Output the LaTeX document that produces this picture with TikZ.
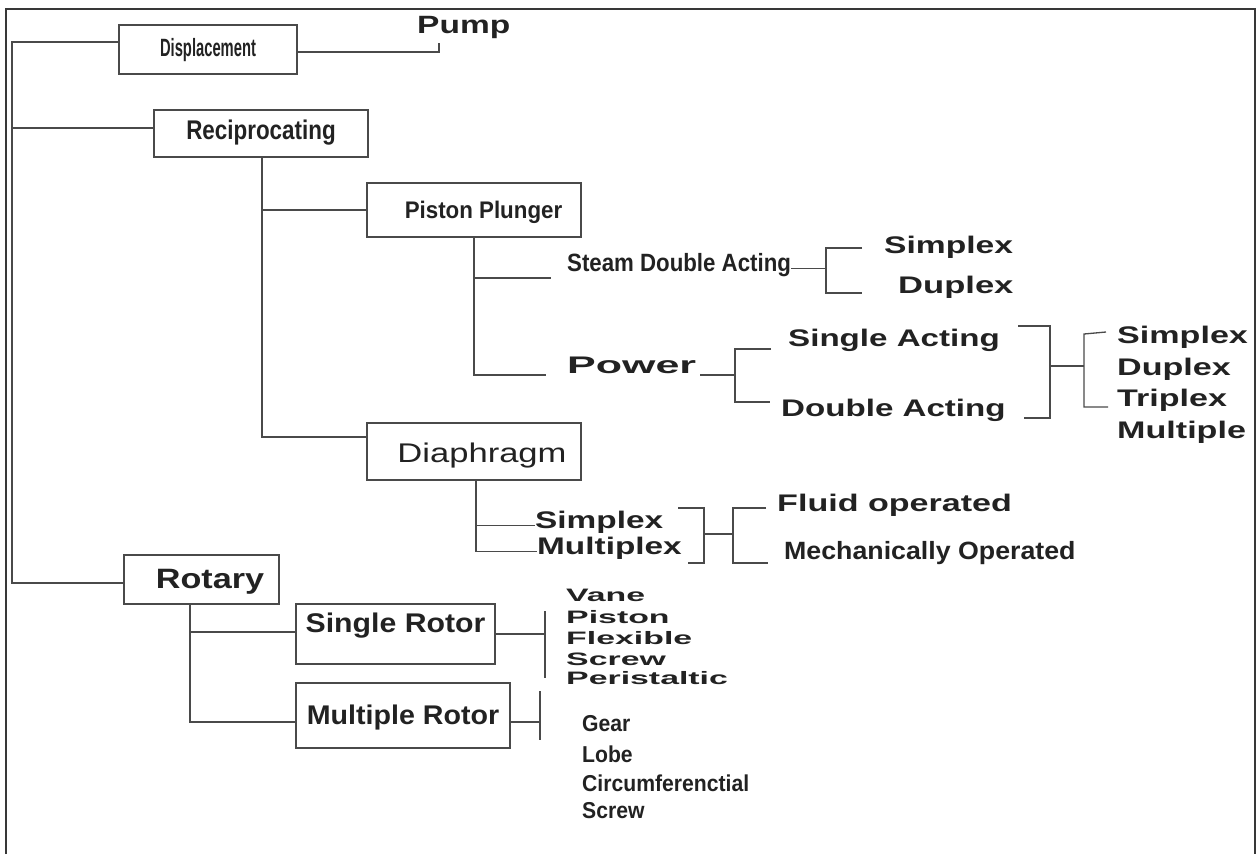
\documentclass[tikz,border=0pt]{standalone}
\usepackage{fontspec}
\setmainfont{Liberation Sans}
\usepackage{graphicx}
\usepackage{xcolor}
\usetikzlibrary{positioning,calc}
\definecolor{ink}{HTML}{222222}
\definecolor{wire}{HTML}{4A4A4A}
\newcommand{\wide}[2]{\scalebox{#1}[1]{#2}}

\begin{document}
\begin{tikzpicture}[x=1pt, y=-1pt,
					fs/.style={font=\bfseries\fontsize{#1}{#1}\selectfont},
					box/.style={draw=wire, line width=1.2pt, inner sep=0pt, text=ink},
					lbl/.style={inner sep=0pt, anchor=base west, text=ink},
					conn/.style={draw=wire, line width=1.3pt},
					frame/.style={draw=ink!90, line width=2pt}]
	\useasboundingbox (0,0) rectangle (1260,854);
	\draw[frame] (6,854) -- (6,9) -- (1255,9) -- (1255,854);

	% boxes
	\node[box, fs=25, minimum width=178pt, minimum height=49pt, text height=14pt, text depth=0pt] (disp) at (208,49.5) {\wide{0.59}{Displacement}};
	\node[box, fs=27, minimum width=214pt, minimum height=47pt, text height=12pt, text depth=0pt] (recip) at (261,133.5) {\wide{0.83}{Reciprocating}};
	\node[box, fs=24, minimum width=214pt, minimum height=54pt, text height=17pt, text depth=0pt] (piston) at (474,210) {\hspace*{19pt}\wide{0.93}{Piston Plunger}};
	\node[box, font=\mdseries\fontsize{27}{27}\selectfont, minimum width=214pt, minimum height=57pt, text height=21pt, text depth=0pt] (diaph) at (474,451.5) {\hspace*{16pt}\wide{1.28}{Diaphragm}};
	\node[box, fs=28, minimum width=155pt, minimum height=49pt, text height=17pt, text depth=0pt] (rot) at (201.5,579.5) {\hspace*{17pt}\wide{1.22}{Rotary}};
	\node[box, fs=27, minimum width=199pt, minimum height=60pt, text height=0pt, text depth=4pt] (srot) at (395.5,634) {\wide{1.12}{Single Rotor}};
	\node[box, fs=27, minimum width=214pt, minimum height=65pt, text height=17pt, text depth=0pt] (mrot) at (403,715.5) {\wide{1.06}{Multiple Rotor}};

	% labels
	\node[lbl, fs=25] (pump) at (417,33) {\wide{1.34}{Pump}};
	\node[lbl, fs=25] (steam) at (567,271) {\wide{0.89}{Steam Double Acting}};
	\node[lbl, fs=24] (sdsimp) at (884,253) {\wide{1.40}{Simplex}};
	\node[lbl, fs=24] (sddup) at (898,293) {\wide{1.44}{Duplex}};
	\node[lbl, fs=24] (power) at (567,373) {\wide{1.79}{Power}};
	\node[lbl, fs=24] (single) at (788,346) {\wide{1.38}{Single Acting}};
	\node[lbl, fs=24] (double) at (781,416) {\wide{1.38}{Double Acting}};
	\foreach \y/\t [count=\i] in {343/Simplex, 375/Duplex, 406/Triplex, 438/Multiple}
		\node[lbl, fs=24] (act\i) at (1117,\y) {\wide{1.42}{\t}};
	\node[lbl, fs=24] (dsimp) at (535,528) {\wide{1.39}{Simplex}};
	\node[lbl, fs=24] (dmult) at (537,554) {\wide{1.39}{Multiplex}};
	\node[lbl, fs=24] (fluid) at (777,511) {\wide{1.42}{Fluid operated}};
	\node[lbl, fs=25] (mech) at (784,559) {\wide{1.07}{Mechanically Operated}};
	\foreach \y/\t [count=\i] in {601/Vane, 623/Piston, 644/Flexible, 665/Screw, 684/Peristaltic}
		\node[lbl, fs=18] (one\i) at (566,\y) {\wide{1.88}{\t}};
	\foreach \y/\t [count=\i] in {731/Gear, 762/Lobe, 791/Circumferenctial, 818/Screw}
		\node[lbl, fs=23] (multi\i) at (582,\y) {\wide{0.92}{\t}};

	% connectors
	\draw[conn] (disp.west |- 0,42) -- (12,42) -- (12,583) -- (rot.west |- 0,583);
	\draw[conn] (12,128) -- (recip.west |- 0,128);
	\draw[conn] (disp.east |- 0,52) -| (439,43);
	\draw[conn] (recip.south -| 262,0) |- (diaph.west |- 0,437);
	\draw[conn] (262,210) -- (piston.west);
	\draw[conn] (piston.south) |- (546,375);
	\draw[conn] (piston.south |- 0,278) -- (551,278);
	\draw[conn] (steam.mid east) -- (steam.mid east -| 826,0);
	\draw[conn] (862,248) -| (826,293) -- (862,293);
	\draw[conn] (power.base east) ++(4,2) -- (735,375);
	\draw[conn] (771,349) -| (735,402) -- (770,402);
	\draw[conn] (1018,326) -| (1050,418) -- (1024,418);
	\draw[conn] (1050,366) -- (1084,366);
	\draw[conn] (1106,332) -- (1084,334) -- (1084,407) -- (1108,407);
	\draw[conn] (diaph.south -| 476,0) |- (dmult.mid west);
	\draw[conn] (dsimp.mid west -| 476,0) -- (dsimp.mid west);
	\draw[conn] (678,508) -| (704,563) -- (688,563);
	\draw[conn] (704,534) -- (733,534);
	\draw[conn] (766,508) -| (733,563) -- (768,563);
	\draw[conn] (rot.south -| 190,0) |- (mrot.west |- 0,722);
	\draw[conn] (190,632) -- (srot.west |- 0,632);
	\draw[conn] (srot.east) -- (545,634);
	\draw[conn] (545,611) -- (545,678);
	\draw[conn] (mrot.east |- 0,722) -- (540,722);
	\draw[conn] (540,691) -- (540,740);
\end{tikzpicture}
\end{document}
